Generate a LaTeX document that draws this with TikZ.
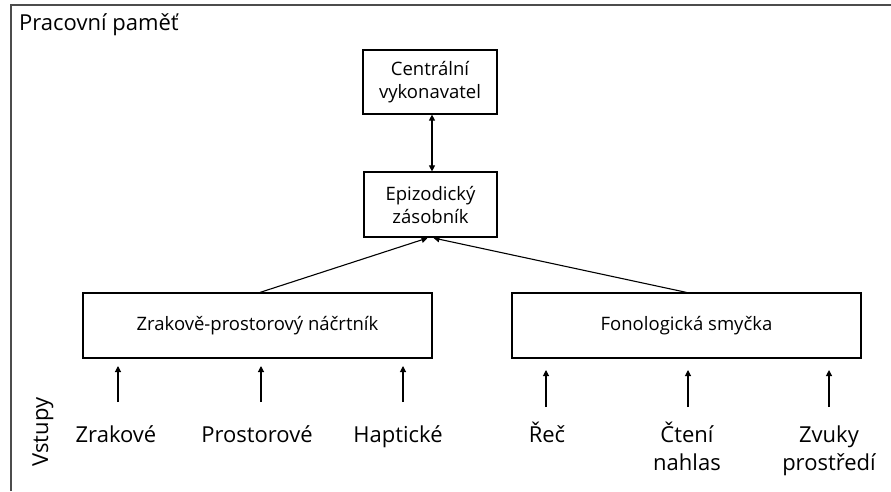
\documentclass[tikz,border=0pt]{standalone}
\usepackage{fontspec}
\setmainfont{Open Sans}
\usetikzlibrary{arrows.meta}
\begin{document}
\begin{tikzpicture}[x=1pt,y=-1pt,
  box/.style={draw=black,line width=1.2pt,inner sep=0pt,align=center,font=\fontsize{18.5}{23}\selectfont},
  lab/.style={align=center,inner sep=0pt,font=\fontsize{22}{28}\selectfont},
  arr/.style={line width=1.1pt,-{Triangle[width=6pt,length=6pt]}},
  frame/.style={draw=black!70,line width=1.8pt}]
\useasboundingbox (0,0) rectangle (891,491);
\draw[frame] (11,491) -- (11,5) -- (891,5);
\node[anchor=west,inner sep=0pt,font=\fontsize{22}{26}\selectfont] (title) at (19,25) {Pracovní paměť};

\node[box,minimum width=134pt,minimum height=64pt] (cv) at (430,82) {Centrální\\vykonavatel};
\node[box,minimum width=133pt,minimum height=65pt] (ep) at (430.5,204.5) {Epizodický\\zásobník};
\node[box,minimum width=349pt,minimum height=65pt] (zp) at (257.5,325.5) {Zrakově-prostorový náčrtník};
\node[box,minimum width=349pt,minimum height=65pt] (fs) at (686.5,325.5) {Fonologická smyčka};

\draw[line width=1.1pt,{Triangle[width=6pt,length=6pt]}-{Triangle[width=6pt,length=6pt]}] ([xshift=2pt]cv.south) -- ([xshift=1.5pt]ep.north);
\coordinate (ez) at (427.5,238);
\coordinate (ef) at (433.5,238);
\draw[arr] ([xshift=2.5pt]zp.north) -- (ez);
\draw[arr] (fs.north) -- (ef);

\node[lab,anchor=base] (l1) at (116,442) {Zrakové};
\node[lab,anchor=base] (l2) at (257,442) {Prostorové};
\node[lab,anchor=base] (l3) at (398,442) {Haptické};
\node[lab,anchor=base] (l4) at (547,442) {Řeč};
\node[lab,anchor=base] (l5) at (687,470) {Čtení\\nahlas};
\node[lab,anchor=base] (l6) at (829,470) {Zvuky\\prostředí};
\node[lab,rotate=90] (vs) at (43,432) {Vstupy};

\coordinate (b1) at (118,402); \coordinate (t1) at (118,366);
\coordinate (b2) at (261,402); \coordinate (t2) at (261,366);
\coordinate (b3) at (403,402); \coordinate (t3) at (403,366);
\coordinate (b4) at (546,407); \coordinate (t4) at (546,370);
\coordinate (b5) at (688,407); \coordinate (t5) at (688,370);
\coordinate (b6) at (829,407); \coordinate (t6) at (829,370);
\foreach \i in {1,...,6} \draw[arr] (b\i) -- (t\i);
\end{tikzpicture}
\end{document}
